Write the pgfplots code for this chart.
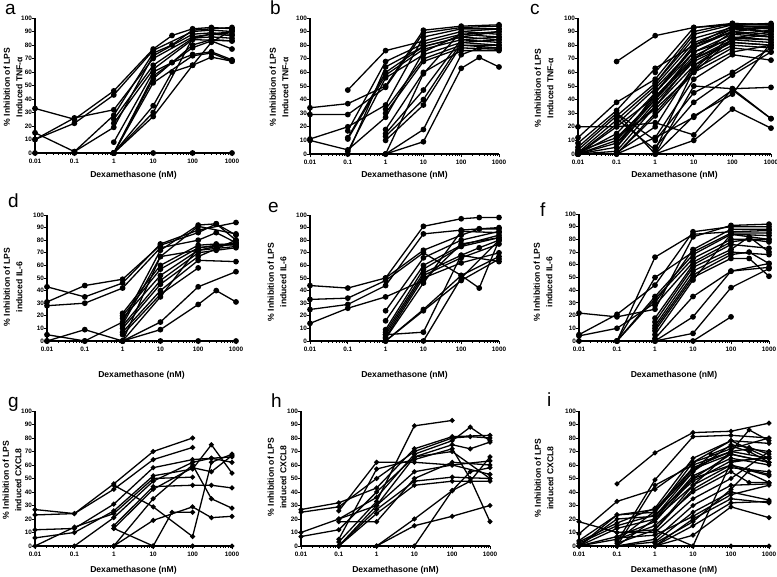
\documentclass[border=0pt]{standalone}
\usepackage{pgfplots}
\pgfplotsset{compat=1.18}
\usepackage{fontspec}
\setmainfont{Liberation Sans}
\newcommand\tickfont{\fontsize{6.4}{7}\selectfont\bfseries}
\newcommand\ylabfont{\fontsize{8.6}{12.5}\selectfont\bfseries}
\newcommand\xlabfont{\fontsize{8.6}{9}\selectfont\bfseries}
\newcommand\letfont{\fontsize{19}{19}\selectfont}
\pgfplotsset{
 mypanel/.style={
  scale only axis, xmin=0.01, xmax=1000, ymin=0, ymax=100,
  axis x line*=bottom, axis y line*=left,
  axis line style={line width=1.3pt,-},
  tick align=outside, major tick length=3.5pt, minor tick length=2pt,
  tick style={line width=0.8pt, black},
  xtick={0.01,0.1,1,10,100,1000}, xticklabels={0.01,0.1,1,10,100,1000},
  minor xtick={0.02,0.03,0.04,0.05,0.06,0.07,0.08,0.09,0.2,0.3,0.4,0.5,0.6,0.7,0.8,0.9,2,3,4,5,6,7,8,9,20,30,40,50,60,70,80,90,200,300,400,500,600,700,800,900},
  ytick={0,10,20,30,40,50,60,70,80,90,100},
  yticklabels={0,10,20,30,40,50,60,70,80,90,100},
  ticklabel style={font=\tickfont},
  yticklabel style={inner xsep=0.6pt, xshift=1.2pt},
  xticklabel style={inner ysep=2pt},
  clip=false, anchor=south west,
  cycle list={black,solid,mark=*,mark options={solid,fill=black}\\},
  every axis plot/.append style={line width=1.3pt, mark size=2.2pt},
 },
 rowthree/.style={every axis plot/.append style={mark size=1.8pt}}
}
\begin{document}
\begin{tikzpicture}
\useasboundingbox (0,0) rectangle (777pt,577pt);
% ---------------- a
\begin{semilogxaxis}[mypanel, at={(35pt,424pt)}, width=197pt, height=135pt]
\addplot coordinates {(0.01,33)(0.1,25)(1,46)(10,77)(30,87)(100,92)(300,93)(1000,92)};
\addplot coordinates {(0.01,10)(0.1,22)(1,43)(10,76)(100,90)(300,91)(1000,90)};
\addplot coordinates {(0.01,15)(0.1,1)(1,19)(10,72)(100,88)(300,89)(1000,88)};
\addplot coordinates {(0.01,10)(0.1,26)(1,32)(10,70)(100,86)(300,88)(1000,87)};
\addplot coordinates {(0.01,0)(0.1,0)(1,0)(10,0)(100,0)(1000,0)};
\addplot coordinates {(0.1,1)(1,28)(10,74)(30,80)(100,91)(1000,93)};
\addplot coordinates {(1,25)(10,65)(100,85)(300,86)(1000,85)};
\addplot coordinates {(1,22)(10,62)(100,84)(1000,83)};
\addplot coordinates {(1,8)(10,60)(30,67)(100,80)(300,84)(1000,83)};
\addplot coordinates {(1,0)(10,57)(100,78)(300,83)(1000,77)};
\addplot coordinates {(1,0)(10,55)(30,67)(100,73)(300,75)(1000,69)};
\addplot coordinates {(1,0)(10,52)(100,72)(300,74)(1000,68)};
\addplot coordinates {(1,0)(10,35)(30,60)(100,65)(300,71)(1000,68)};
\addplot coordinates {(1,0)(10,30)(100,85)(300,88)(1000,90)};
\addplot coordinates {(1,0)(10,27)(100,65)(300,82)(1000,91)};
\end{semilogxaxis}
% ---------------- b
\begin{semilogxaxis}[mypanel, at={(310pt,423pt)}, width=189pt, height=136pt]
\addplot coordinates {(0.01,34)(0.1,37)(1,50)(10,91)(100,94)(1000,95)};
\addplot coordinates {(0.01,29)(0.1,29)(1,49)(10,89)(100,93)(1000,94)};
\addplot coordinates {(0.01,11)(0.1,20)(1,36)(10,86)(100,92)(1000,92)};
\addplot coordinates {(0.01,10)(0.1,3)(1,27)(10,75)(100,88)(1000,90)};
\addplot coordinates {(0.1,47)(1,76)(10,83)(100,90)(1000,88)};
\addplot coordinates {(0.1,17)(1,68)(10,81)(100,88)(1000,86)};
\addplot coordinates {(0.1,12)(1,60)(10,79)(100,86)(1000,84)};
\addplot coordinates {(0.1,11)(1,58)(10,77)(100,84)(1000,82)};
\addplot coordinates {(0.1,2)(1,56)(10,73)(100,82)(1000,80)};
\addplot coordinates {(1,33)(10,70)(100,80)(1000,78)};
\addplot coordinates {(1,30)(10,68)(100,78)(1000,77)};
\addplot coordinates {(1,18)(10,60)(100,76)(1000,76)};
\addplot coordinates {(1,15)(10,47)(100,84)(1000,86)};
\addplot coordinates {(1,13)(10,40)(100,82)(1000,84)};
\addplot coordinates {(1,10)(10,36)(100,80)(1000,80)};
\addplot coordinates {(1,0)(10,18)(100,73)(300,78)(1000,78)};
\addplot coordinates {(1,0)(10,9)(100,63)(300,71)(1000,64)};
\addplot coordinates {(1,0)(10,59)(100,90)(1000,92)};
\addplot coordinates {(0.1,0)(1,64)(10,79)(100,86)(1000,90)};
\end{semilogxaxis}
% ---------------- c
\begin{semilogxaxis}[mypanel, at={(578pt,423pt)}, width=193pt, height=136pt]
\addplot coordinates {(0.1,68)(1,87)(10,93)(100,95)(1000,96)};
\addplot coordinates {(0.01,20)(0.1,20)(1,23)(10,14)(100,48)(1000,26)};
\addplot coordinates {(0.01,12)(0.1,38)(1,55)(10,90)(100,96)(1000,95)};
\addplot coordinates {(0.01,8)(0.1,32)(1,63)(10,80)(100,94)(1000,94)};
\addplot coordinates {(0.01,5)(0.1,30)(1,0)(10,50)(100,48)(1000,49)};
\addplot coordinates {(0.01,3)(0.1,28)(1,52)(10,85)(100,93)(1000,92)};
\addplot coordinates {(0.01,1)(0.1,25)(1,50)(10,82)(100,92)(1000,90)};
\addplot coordinates {(0.01,0)(0.1,22)(1,48)(10,78)(100,90)(1000,88)};
\addplot coordinates {(0.01,0)(0.1,15)(1,45)(10,75)(100,88)(1000,86)};
\addplot coordinates {(0.01,0)(0.1,10)(1,42)(10,72)(100,86)(1000,84)};
\addplot coordinates {(0.01,0)(0.1,8)(1,40)(10,70)(100,84)(1000,82)};
\addplot coordinates {(0.01,0)(0.1,5)(1,38)(10,68)(100,82)(1000,80)};
\addplot coordinates {(0.01,0)(0.1,2)(1,35)(10,65)(100,80)(1000,78)};
\addplot coordinates {(0.01,0)(0.1,0)(1,30)(10,62)(100,78)(1000,75)};
\addplot coordinates {(0.1,0)(1,28)(10,60)(100,75)(1000,80)};
\addplot coordinates {(0.1,0)(1,12)(10,55)(100,73)(1000,69)};
\addplot coordinates {(0.1,30)(1,10)(10,45)(100,60)(1000,78)};
\addplot coordinates {(1,5)(10,38)(100,58)(1000,75)};
\addplot coordinates {(1,0)(10,28)(100,44)(1000,82)};
\addplot coordinates {(1,0)(10,10)(100,33)(1000,19)};
\addplot coordinates {(1,12)(10,27)(100,47)(1000,26)};
\addplot coordinates {(1,60)(10,93)(100,96)(1000,95)};
\addplot coordinates {(1,52)(10,88)(100,95)(1000,92)};
\addplot coordinates {(1,45)(10,80)(100,90)(1000,86)};
\addplot coordinates {(0.1,12)(1,40)(10,75)(100,85)(1000,84)};
\addplot coordinates {(0.1,8)(1,35)(10,70)(100,82)(1000,80)};
\addplot coordinates {(0.1,26)(1,3)(10,62)(100,88)(1000,91)};
\addplot coordinates {(0.1,1)(1,20)(10,65)(100,84)(1000,88)};
\addplot coordinates {(0.01,0)(0.1,20)(1,42)(10,70)(100,90)(1000,93)};
\addplot coordinates {(0.01,2)(0.1,12)(1,33)(10,60)(100,85)(1000,90)};
\addplot coordinates {(0.1,5)(1,45)(10,78)(100,92)(1000,93)};
\end{semilogxaxis}
% ---------------- d
\begin{semilogxaxis}[mypanel, at={(47pt,236pt)}, width=189pt, height=126pt]
\addplot coordinates {(0.01,43)(0.1,35)(1,46)(10,77)(100,88)(1000,94)};
\addplot coordinates {(0.01,31)(0.1,44)(1,49)(10,76)(100,86)(300,93)(1000,84)};
\addplot coordinates {(0.01,28)(0.1,30)(1,42)(10,74)(100,80)(300,86)(1000,78)};
\addplot coordinates {(0.01,5)(0.1,0)(1,15)(10,72)(100,92)(300,93)(1000,80)};
\addplot coordinates {(0.01,0)(0.1,9)(1,0)(10,67)(100,91)(1000,85)};
\addplot coordinates {(0.01,0)(0.1,0)(1,0)(10,0)(100,0)(1000,0)};
\addplot coordinates {(1,22)(10,60)(100,76)(300,77)(1000,76)};
\addplot coordinates {(1,20)(10,57)(100,74)(1000,78)};
\addplot coordinates {(1,18)(10,52)(100,72)(300,75)(1000,77)};
\addplot coordinates {(1,12)(10,48)(100,70)(300,72)(1000,74)};
\addplot coordinates {(1,10)(10,45)(100,67)(1000,80)};
\addplot coordinates {(1,7)(10,40)(100,64)(1000,63)};
\addplot coordinates {(1,5)(10,37)(100,58)};
\addplot coordinates {(1,0)(10,35)(100,74)(1000,77)};
\addplot coordinates {(1,0)(10,15)(100,43)(1000,55)};
\addplot coordinates {(1,0)(10,9)(100,29)(300,40)(1000,31)};
\addplot coordinates {(1,13)(10,67)(100,72)(1000,75)};
\end{semilogxaxis}
% ---------------- e
\begin{semilogxaxis}[mypanel, at={(310pt,236pt)}, width=189pt, height=126pt]
\addplot coordinates {(0.01,44)(0.1,42)(1,50)(10,91)(100,97)(300,98)(1000,98)};
\addplot coordinates {(0.01,33)(0.1,34)(1,48)(10,70)(100,52)(300,42)(1000,80)};
\addplot coordinates {(0.01,25)(0.1,29)(1,44)(10,85)(100,88)(300,89)(1000,90)};
\addplot coordinates {(0.01,14)(0.1,26)(1,35)(10,48)(100,77)(1000,82)};
\addplot coordinates {(1,50)(10,72)(100,84)(300,89)(1000,89)};
\addplot coordinates {(1,24)(10,66)(100,80)(1000,87)};
\addplot coordinates {(1,16)(10,60)(100,76)(1000,84)};
\addplot coordinates {(1,9)(10,57)(100,75)(1000,82)};
\addplot coordinates {(1,7)(10,54)(100,68)(300,74)(1000,80)};
\addplot coordinates {(1,5)(10,52)(100,66)(1000,77)};
\addplot coordinates {(1,3)(10,50)(100,62)(1000,70)};
\addplot coordinates {(1,2)(10,46)(100,87)(1000,86)};
\addplot coordinates {(1,0)(10,25)(100,52)(1000,67)};
\addplot coordinates {(1,0)(10,24)(100,48)(1000,65)};
\addplot coordinates {(1,5)(10,7)(100,68)(1000,63)};
\addplot coordinates {(1,0)(10,0)(100,50)(1000,80)};
\end{semilogxaxis}
% ---------------- f
\begin{semilogxaxis}[mypanel, at={(579pt,236pt)}, width=190pt, height=127pt]
\addplot coordinates {(0.01,22)(0.1,19)(1,25)(10,82)(100,91)(1000,92)};
\addplot coordinates {(0.01,5)(0.1,21)(1,44)(10,86)(100,90)(1000,90)};
\addplot coordinates {(0.01,4)(0.1,10)(1,30)(10,72)(100,88)(1000,88)};
\addplot coordinates {(0.01,0)(0.1,0)(1,66)(10,84)(100,86)(1000,87)};
\addplot coordinates {(0.1,0)(1,50)(10,70)(100,85)(1000,85)};
\addplot coordinates {(0.1,0)(1,35)(10,68)(100,84)(1000,83)};
\addplot coordinates {(0.1,0)(1,33)(10,65)(100,80)(1000,80)};
\addplot coordinates {(1,28)(10,62)(100,78)(300,80)(1000,78)};
\addplot coordinates {(1,18)(10,60)(100,76)(1000,73)};
\addplot coordinates {(1,15)(10,58)(100,72)(300,82)(1000,70)};
\addplot coordinates {(1,12)(10,55)(100,70)(1000,68)};
\addplot coordinates {(1,10)(10,52)(100,68)(300,70)(1000,61)};
\addplot coordinates {(1,8)(10,50)(100,65)(300,65)(1000,51)};
\addplot coordinates {(1,5)(10,48)(100,84)(1000,80)};
\addplot coordinates {(1,2)(10,35)(100,55)(1000,58)};
\addplot coordinates {(1,0)(10,19)(100,55)(1000,61)};
\addplot coordinates {(1,0)(10,6)(100,42)(1000,57)};
\addplot coordinates {(1,0)(10,0)(100,19)};
\end{semilogxaxis}
% ---------------- g
\begin{semilogxaxis}[mypanel, rowthree, at={(35pt,31pt)}, width=197pt, height=135pt]
\addplot coordinates {(0.01,27)(0.1,24)(1,46)(10,70)(100,80)};
\addplot coordinates {(0.01,23)(0.1,24)(1,42)(10,64)(100,73)};
\addplot coordinates {(0.01,12)(0.1,13)(1,31)(10,58)(100,64)(300,65)(1000,62)};
\addplot coordinates {(0.01,6)(0.1,10)(1,26)(10,52)(100,57)(300,75)(1000,54)};
\addplot coordinates {(0.01,0)(0.1,14)(1,24)(10,50)(100,51)};
\addplot coordinates {(0.01,0)(0.1,0)(1,21)(10,48)(100,62)(300,65)(1000,66)};
\addplot coordinates {(1,45)(10,29)(100,7)(300,62)(1000,68)};
\addplot coordinates {(1,13)(10,0)(30,25)(100,25)};
\addplot coordinates {(1,15)(10,44)(100,45)(300,45)(1000,43)};
\addplot coordinates {(1,0)(10,19)(100,29)(300,21)(1000,22)};
\addplot coordinates {(1,0)(10,35)(100,60)(300,35)(1000,28)};
\addplot coordinates {(1,0)(10,0)(100,0)(1000,0)};
\addplot coordinates {(1,13)(10,42)(100,58)(300,55)(1000,67)};
\end{semilogxaxis}
% ---------------- h
\begin{semilogxaxis}[mypanel, rowthree, at={(301pt,31pt)}, width=189pt, height=135pt]
\addplot coordinates {(0.01,27)(0.1,32)(1,43)(10,72)(100,81)(1000,82)};
\addplot coordinates {(0.01,25)(0.1,29)(1,50)(10,70)(100,80)(300,81)(1000,80)};
\addplot coordinates {(0.01,10)(0.1,20)(1,36)(10,68)(100,78)(300,88)(1000,78)};
\addplot coordinates {(0.01,7)(0.1,12)(1,40)(10,66)(100,75)(300,72)(1000,77)};
\addplot coordinates {(0.1,26)(1,62)(10,62)(100,60)(1000,63)};
\addplot coordinates {(0.1,18)(1,18)(10,50)(100,62)(1000,60)};
\addplot coordinates {(0.1,5)(1,57)(10,64)(100,72)(300,50)(1000,18)};
\addplot coordinates {(0.1,3)(1,33)(10,89)(100,93)};
\addplot coordinates {(0.1,0)(1,30)(10,55)(100,60)(1000,53)};
\addplot coordinates {(0.1,0)(1,27)(10,48)(100,51)(1000,50)};
\addplot coordinates {(0.1,0)(1,24)(10,45)(100,48)(1000,48)};
\addplot coordinates {(1,0)(10,20)(100,41)(300,48)(1000,66)};
\addplot coordinates {(1,0)(10,15)(100,22)(1000,30)};
\addplot coordinates {(10,0)(100,41)(300,55)(1000,58)};
\addplot coordinates {(0.1,20)(1,30)(10,66)(100,70)(1000,50)};
\end{semilogxaxis}
% ---------------- i
\begin{semilogxaxis}[mypanel, rowthree, at={(579pt,31pt)}, width=190pt, height=135pt]
\addplot coordinates {(0.01,18)(0.1,10)(1,12)(10,45)(100,70)(1000,65)};
\addplot coordinates {(0.01,9)(0.1,33)(1,42)(10,62)(100,72)(1000,80)};
\addplot coordinates {(0.01,4)(0.1,23)(1,25)(10,57)(100,68)(1000,62)};
\addplot coordinates {(0.01,3)(0.1,17)(1,28)(10,65)(100,78)(1000,76)};
\addplot coordinates {(0.01,0)(0.1,20)(1,22)(10,55)(100,75)(300,73)(1000,68)};
\addplot coordinates {(0.01,0)(0.1,13)(1,20)(10,52)(100,65)(1000,60)};
\addplot coordinates {(0.01,0)(0.1,7)(1,18)(10,50)(100,60)(1000,53)};
\addplot coordinates {(0.01,0)(0.1,5)(1,15)(10,40)(100,55)(300,47)(1000,47)};
\addplot coordinates {(0.1,46)(1,69)(10,84)(100,85)(1000,91)};
\addplot coordinates {(0.1,3)(1,49)(10,81)(100,82)(1000,80)};
\addplot coordinates {(0.1,0)(1,45)(10,60)(100,70)(300,86)(1000,78)};
\addplot coordinates {(0.1,10)(1,10)(10,35)(100,50)(1000,70)};
\addplot coordinates {(0.1,0)(1,5)(10,30)(100,45)(1000,46)};
\addplot coordinates {(0.1,0)(1,3)(10,25)(100,40)(1000,34)};
\addplot coordinates {(1,0)(10,20)(100,35)(1000,32)};
\addplot coordinates {(1,0)(10,15)(100,32)(1000,33)};
\addplot coordinates {(1,0)(10,8)(100,29)(1000,21)};
\addplot coordinates {(1,0)(10,0)(100,0)(1000,0)};
\addplot coordinates {(1,12)(10,0)(100,62)(1000,66)};
\addplot coordinates {(1,25)(10,62)(100,78)(1000,65)};
\addplot coordinates {(1,22)(10,50)(100,68)(1000,62)};
\addplot coordinates {(0.01,0)(0.1,0)(1,20)(10,45)(100,60)(1000,47)};
\addplot coordinates {(0.01,0)(0.1,23)(1,27)(10,58)(100,70)(300,72)(1000,70)};
\addplot coordinates {(0.01,2)(0.1,15)(1,23)(10,48)(100,63)(1000,65)};
\addplot coordinates {(0.1,2)(1,12)(10,42)(100,58)(1000,55)};
\addplot coordinates {(0.1,6)(1,8)(10,22)(100,38)(1000,45)};
\addplot coordinates {(1,2)(10,18)(100,42)(300,56)(1000,52)};
\addplot coordinates {(0.1,4)(1,26)(10,55)(30,68)(100,74)(300,70)(1000,62)};
\end{semilogxaxis}
% ---------------- texts
\node[anchor=base west, font=\letfont, inner sep=0] at (5pt,562pt) {a};
\node[anchor=base west, font=\letfont, inner sep=0] at (270pt,562pt) {b};
\node[anchor=base west, font=\letfont, inner sep=0] at (530pt,562pt) {c};
\node[anchor=base west, font=\letfont, inner sep=0] at (8pt,369pt) {d};
\node[anchor=base west, font=\letfont, inner sep=0] at (268pt,364pt) {e};
\node[anchor=base west, font=\letfont, inner sep=0] at (540pt,360pt) {f};
\node[anchor=base west, font=\letfont, inner sep=0] at (8pt,169pt) {g};
\node[anchor=base west, font=\letfont, inner sep=0] at (271pt,169pt) {h};
\node[anchor=base west, font=\letfont, inner sep=0] at (547pt,170pt) {i};
\foreach \x/\y/\t in {13/490/Induced TNF-α, 279/490/Induced TNF-α, 544/489/Induced TNF-α,
  13/290/induced IL-6, 277/295/induced IL-6, 543/295/induced IL-6,
  12/97/induced CXCL8, 277/100/induced CXCL8, 544/99/induced CXCL8}
  {\node[rotate=90, align=center, font=\ylabfont, inner sep=0] at (\x pt,\y pt) {\% Inhibition of LPS\\\t};}
\foreach \x/\y in {133.5/402, 404.5/402, 674.5/402, 141.5/202, 404.5/202, 674/202, 133.5/7, 395.5/7, 674/7}
  {\node[font=\xlabfont, inner sep=0] at (\x pt,\y pt) {Dexamethasone (nM)};}
\end{tikzpicture}
\end{document}
